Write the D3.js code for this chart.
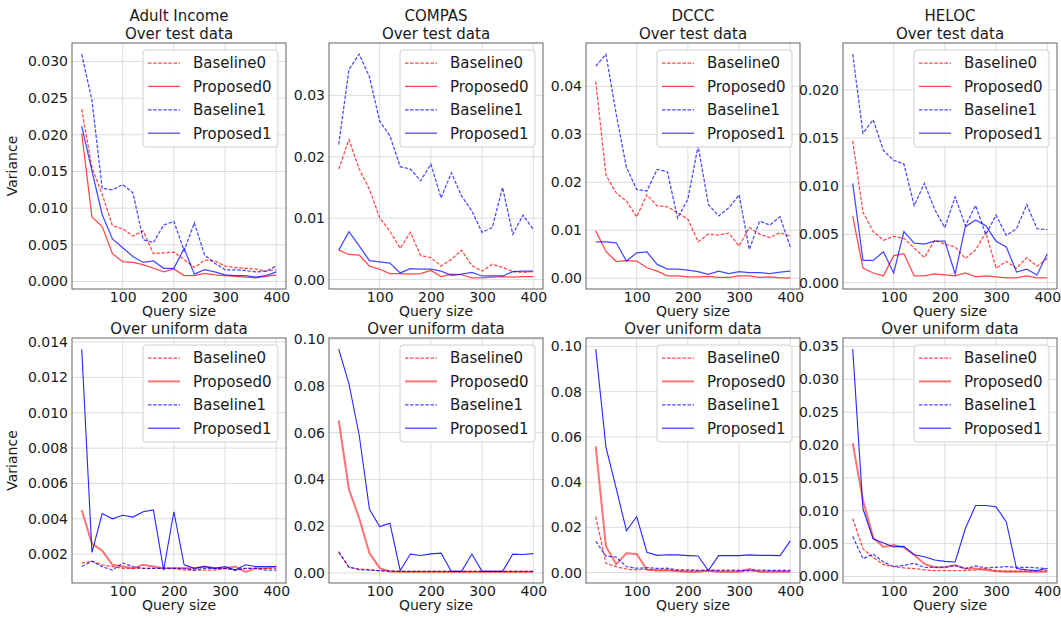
<!DOCTYPE html>
<html lang="en">
<head>
<meta charset="UTF-8">
<title>Variance vs query size</title>
<script src="https://d3js.org/d3.v7.min.js"></script>
<style>
  body { margin: 0; background: #fff; }
  svg { font-family: "DejaVu Sans", sans-serif; display: block; }
</style>
</head>
<body>
<div id="chart"></div>
<script>
// x values shared by every panel
const querySizes = [20, 40, 60, 80, 100, 120, 140, 160, 180, 200, 220, 240, 260, 280, 300, 320, 340, 360, 380, 400];
const seriesNames = ['Baseline0', 'Proposed0', 'Baseline1', 'Proposed1'];
const datasets = ['Adult Income', 'COMPAS', 'DCCC', 'HELOC'];
const rowTitles = ['Over test data', 'Over uniform data'];

// each panel: [Baseline0, Proposed0, Baseline1, Proposed1]
const adultTest = [
  [0.0235, 0.0155, 0.0119, 0.0076, 0.0072, 0.0062, 0.0069, 0.0038, 0.0039, 0.0040, 0.0030, 0.0019, 0.0029, 0.0028, 0.0021, 0.0019, 0.0018, 0.0017, 0.0014, 0.0016],
  [0.0202, 0.0088, 0.0075, 0.0038, 0.0027, 0.0026, 0.0023, 0.0018, 0.0013, 0.0017, 0.0008, 0.0008, 0.0011, 0.0009, 0.0008, 0.0007, 0.0006, 0.0005, 0.0007, 0.0009],
  [0.0310, 0.0247, 0.0127, 0.0125, 0.0132, 0.0121, 0.0057, 0.0053, 0.0077, 0.0082, 0.0042, 0.0080, 0.0036, 0.0025, 0.0016, 0.0016, 0.0015, 0.0013, 0.0014, 0.0021],
  [0.0212, 0.0151, 0.0091, 0.0058, 0.0046, 0.0034, 0.0026, 0.0028, 0.0018, 0.0018, 0.0045, 0.0010, 0.0016, 0.0013, 0.0009, 0.0008, 0.0008, 0.0006, 0.0008, 0.0013]
];
const compasTest = [
  [0.0180, 0.0228, 0.0180, 0.0147, 0.0101, 0.0079, 0.0051, 0.0077, 0.0039, 0.0036, 0.0022, 0.0033, 0.0048, 0.0023, 0.0014, 0.0025, 0.0020, 0.0013, 0.0012, 0.0013],
  [0.0048, 0.0041, 0.0040, 0.0022, 0.0017, 0.0010, 0.0010, 0.0009, 0.0010, 0.0015, 0.0005, 0.0009, 0.0008, 0.0003, 0.0003, 0.0004, 0.0005, 0.0004, 0.0005, 0.0005],
  [0.0220, 0.0342, 0.0367, 0.0330, 0.0258, 0.0234, 0.0184, 0.0180, 0.0161, 0.0188, 0.0133, 0.0174, 0.0136, 0.0112, 0.0077, 0.0085, 0.0150, 0.0074, 0.0105, 0.0082],
  [0.0048, 0.0078, 0.0055, 0.0031, 0.0029, 0.0027, 0.0011, 0.0018, 0.0017, 0.0017, 0.0014, 0.0007, 0.0009, 0.0012, 0.0006, 0.0006, 0.0006, 0.0013, 0.0014, 0.0014]
];
const dcccTest = [
  [0.0410, 0.0215, 0.0178, 0.0161, 0.0128, 0.0174, 0.0151, 0.0149, 0.0137, 0.0123, 0.0076, 0.0092, 0.0090, 0.0094, 0.0067, 0.0106, 0.0092, 0.0085, 0.0095, 0.0088],
  [0.0099, 0.0056, 0.0035, 0.0037, 0.0036, 0.0022, 0.0015, 0.0005, 0.0005, 0.0003, 0.0003, 0.0004, 0.0002, 0.0002, 0.0005, 0.0005, 0.0002, 0.0003, 0.0001, 0.0001],
  [0.0442, 0.0467, 0.0342, 0.0231, 0.0185, 0.0182, 0.0227, 0.0222, 0.0125, 0.0165, 0.0276, 0.0154, 0.0130, 0.0147, 0.0174, 0.0060, 0.0119, 0.0111, 0.0128, 0.0065],
  [0.0076, 0.0076, 0.0074, 0.0036, 0.0053, 0.0055, 0.0029, 0.0019, 0.0019, 0.0017, 0.0014, 0.0008, 0.0015, 0.0010, 0.0014, 0.0012, 0.0012, 0.0010, 0.0013, 0.0015]
];
const helocTest = [
  [0.0147, 0.0073, 0.0053, 0.0044, 0.0048, 0.0046, 0.0036, 0.0026, 0.0044, 0.0040, 0.0037, 0.0025, 0.0034, 0.0052, 0.0015, 0.0022, 0.0015, 0.0026, 0.0017, 0.0025],
  [0.0069, 0.0015, 0.0010, 0.0007, 0.0028, 0.0030, 0.0007, 0.0007, 0.0009, 0.0008, 0.0007, 0.0010, 0.0006, 0.0007, 0.0006, 0.0005, 0.0005, 0.0007, 0.0005, 0.0005],
  [0.0237, 0.0155, 0.0169, 0.0137, 0.0127, 0.0123, 0.0080, 0.0103, 0.0076, 0.0057, 0.0089, 0.0059, 0.0080, 0.0050, 0.0070, 0.0049, 0.0056, 0.0081, 0.0056, 0.0055],
  [0.0103, 0.0023, 0.0023, 0.0032, 0.0010, 0.0053, 0.0041, 0.0040, 0.0043, 0.0043, 0.0009, 0.0058, 0.0065, 0.0059, 0.0043, 0.0037, 0.0011, 0.0014, 0.0008, 0.0030]
];
const adultUniform = [
  [0.0015, 0.0016, 0.0014, 0.0013, 0.0012, 0.0012, 0.0012, 0.0012, 0.0012, 0.0012, 0.0011, 0.0011, 0.0011, 0.0011, 0.0012, 0.0011, 0.0012, 0.0012, 0.0012, 0.0012],
  [0.0045, 0.0026, 0.0022, 0.0014, 0.0013, 0.0012, 0.0014, 0.0013, 0.0012, 0.0012, 0.0012, 0.0012, 0.0013, 0.0012, 0.0012, 0.0013, 0.0010, 0.0012, 0.0012, 0.0013],
  [0.0013, 0.0016, 0.0013, 0.0011, 0.0015, 0.0013, 0.0012, 0.0012, 0.0012, 0.0012, 0.0012, 0.0011, 0.0012, 0.0012, 0.0012, 0.0011, 0.0012, 0.0012, 0.0011, 0.0011],
  [0.0136, 0.0021, 0.0043, 0.0040, 0.0042, 0.0041, 0.0044, 0.0045, 0.0011, 0.0044, 0.0014, 0.0012, 0.0013, 0.0012, 0.0013, 0.0011, 0.0014, 0.0013, 0.0013, 0.0013]
];
const compasUniform = [
  [0.0092, 0.0024, 0.0017, 0.0014, 0.0010, 0.0008, 0.0007, 0.0006, 0.0006, 0.0006, 0.0006, 0.0006, 0.0006, 0.0006, 0.0006, 0.0006, 0.0006, 0.0006, 0.0006, 0.0006],
  [0.0652, 0.0357, 0.0234, 0.0085, 0.0021, 0.0007, 0.0005, 0.0005, 0.0005, 0.0005, 0.0005, 0.0005, 0.0005, 0.0005, 0.0005, 0.0005, 0.0005, 0.0005, 0.0005, 0.0005],
  [0.0088, 0.0025, 0.0015, 0.0012, 0.0010, 0.0008, 0.0007, 0.0007, 0.0007, 0.0007, 0.0007, 0.0007, 0.0007, 0.0007, 0.0007, 0.0007, 0.0007, 0.0007, 0.0007, 0.0007],
  [0.0957, 0.0809, 0.0589, 0.0272, 0.0199, 0.0213, 0.0011, 0.0081, 0.0075, 0.0082, 0.0085, 0.0007, 0.0007, 0.0081, 0.0007, 0.0007, 0.0007, 0.0081, 0.0079, 0.0083]
];
const dcccUniform = [
  [0.0247, 0.0041, 0.0026, 0.0015, 0.0012, 0.0015, 0.0012, 0.0012, 0.0009, 0.0007, 0.0007, 0.0007, 0.0006, 0.0007, 0.0006, 0.0007, 0.0006, 0.0006, 0.0006, 0.0006],
  [0.0558, 0.0115, 0.0037, 0.0085, 0.0082, 0.0012, 0.0009, 0.0010, 0.0006, 0.0004, 0.0004, 0.0009, 0.0004, 0.0004, 0.0004, 0.0015, 0.0004, 0.0003, 0.0003, 0.0003],
  [0.0138, 0.0073, 0.0068, 0.0026, 0.0019, 0.0022, 0.0018, 0.0019, 0.0012, 0.0012, 0.0010, 0.0011, 0.0010, 0.0011, 0.0010, 0.0010, 0.0011, 0.0010, 0.0010, 0.0010],
  [0.0988, 0.0555, 0.0372, 0.0185, 0.0247, 0.0090, 0.0076, 0.0079, 0.0078, 0.0075, 0.0073, 0.0009, 0.0075, 0.0075, 0.0075, 0.0078, 0.0076, 0.0076, 0.0075, 0.0140]
];
const helocUniform = [
  [0.0088, 0.0042, 0.0029, 0.0018, 0.0015, 0.0013, 0.0012, 0.0010, 0.0009, 0.0009, 0.0009, 0.0009, 0.0010, 0.0012, 0.0009, 0.0008, 0.0008, 0.0008, 0.0008, 0.0009],
  [0.0203, 0.0116, 0.0059, 0.0045, 0.0048, 0.0044, 0.0033, 0.0019, 0.0014, 0.0014, 0.0017, 0.0012, 0.0012, 0.0010, 0.0008, 0.0007, 0.0007, 0.0007, 0.0007, 0.0007],
  [0.0061, 0.0027, 0.0034, 0.0022, 0.0015, 0.0017, 0.0020, 0.0014, 0.0014, 0.0014, 0.0017, 0.0012, 0.0016, 0.0013, 0.0014, 0.0015, 0.0014, 0.0014, 0.0013, 0.0012],
  [0.0346, 0.0103, 0.0057, 0.0051, 0.0045, 0.0046, 0.0033, 0.0030, 0.0025, 0.0023, 0.0022, 0.0073, 0.0108, 0.0108, 0.0106, 0.0083, 0.0012, 0.0010, 0.0009, 0.0012]
];

// tick labels per panel
const xTicks = [100, 200, 300, 400];
const yTicksTest = [
  [0, 0.005, 0.010, 0.015, 0.020, 0.025, 0.030],
  [0, 0.01, 0.02, 0.03],
  [0, 0.01, 0.02, 0.03, 0.04],
  [0, 0.005, 0.010, 0.015, 0.020]
];
const yTicksUniform = [
  [0.002, 0.004, 0.006, 0.008, 0.010, 0.012, 0.014],
  [0, 0.02, 0.04, 0.06, 0.08, 0.10],
  [0, 0.02, 0.04, 0.06, 0.08, 0.10],
  [0, 0.005, 0.010, 0.015, 0.020, 0.025, 0.030, 0.035]
];

const panels = [
  [adultTest, compasTest, dcccTest, helocTest],
  [adultUniform, compasUniform, dcccUniform, helocUniform]
];
const yTicks = [yTicksTest, yTicksUniform];

const width = 1061, height = 618;
const panelW = 214;
const rowTop = [43, 338], rowH = [246, 245];
const colLeft = c => 72 + c * 257;

const color = ['#ff0000', '#ff0000', '#0000ff', '#0000ff'];
const dashes = ['3.5,1.6', null, '3.5,1.6', null];

function lineStyle(row, i) {
  if (row === 1 && i === 1) return { w: 2, op: 0.55 };
  if (row === 1 && i === 3) return { w: 1.1, op: 0.85 };
  return { w: 1.25, op: 0.72 };
}

const svg = d3.select('#chart').append('svg')
  .attr('width', width)
  .attr('height', height);

panels.forEach((rowData, r) => {
  rowData.forEach((series, c) => {
    const h = rowH[r];
    const g = svg.append('g')
      .attr('transform', `translate(${colLeft(c)},${rowTop[r]})`);

    // matplotlib style 5% margins
    const x = d3.scaleLinear().domain([1, 419]).range([0, panelW]);
    const all = series.flat();
    const lo = d3.min(all), hi = d3.max(all), pad = (hi - lo) * 0.05;
    const y = d3.scaleLinear().domain([lo - pad, hi + pad]).range([h, 0]);

    const ticks = yTicks[r][c];
    const step = ticks[1] - ticks[0];
    const dec = Math.ceil(-Math.log10(step) - 1e-9);
    const fmt = d3.format(`.${dec}f`);

    // grid
    g.append('g').selectAll('line.gy').data(ticks).enter().append('line')
      .attr('x1', 0).attr('x2', panelW)
      .attr('y1', d => y(d)).attr('y2', d => y(d))
      .attr('stroke', '#dcdcdc').attr('stroke-width', 1);
    g.append('g').selectAll('line.gx').data(xTicks).enter().append('line')
      .attr('x1', d => x(d)).attr('x2', d => x(d))
      .attr('y1', 0).attr('y2', h)
      .attr('stroke', '#dcdcdc').attr('stroke-width', 1);

    // axes (labels only, no tick marks)
    const yAxis = g.append('g')
      .call(d3.axisLeft(y).tickValues(ticks).tickFormat(fmt).tickSize(0).tickPadding(4));
    const xAxis = g.append('g').attr('transform', `translate(0,${h})`)
      .call(d3.axisBottom(x).tickValues(xTicks).tickSize(0).tickPadding(3));
    [yAxis, xAxis].forEach(a => {
      a.select('.domain').remove();
      a.selectAll('line').remove();
      a.selectAll('text').attr('font-size', 14).attr('fill', '#1a1a1a')
        .attr('font-family', '"DejaVu Sans", sans-serif');
    });

    // series
    const line = d3.line().x((d, i) => x(querySizes[i])).y(d => y(d));
    series.forEach((vals, i) => {
      const st = lineStyle(r, i);
      g.append('path')
        .datum(vals)
        .attr('d', line)
        .attr('fill', 'none')
        .attr('stroke', color[i])
        .attr('stroke-opacity', st.op)
        .attr('stroke-width', st.w)
        .attr('stroke-dasharray', dashes[i]);
    });

    // frame
    g.append('rect')
      .attr('width', panelW).attr('height', h)
      .attr('fill', 'none').attr('stroke', '#555').attr('stroke-width', 0.9);

    // legend
    const lw = 135, lh = 97;
    const leg = g.append('g').attr('transform', `translate(${panelW - 8 - lw},7)`);
    leg.append('rect')
      .attr('width', lw).attr('height', lh).attr('rx', 3)
      .attr('fill', '#fff').attr('fill-opacity', 0.85)
      .attr('stroke', '#d0d0d0').attr('stroke-width', 1);
    seriesNames.forEach((name, i) => {
      const st = lineStyle(r, i);
      const yy = 13 + i * 23.4;
      leg.append('line')
        .attr('x1', 5).attr('x2', 37).attr('y1', yy).attr('y2', yy)
        .attr('stroke', color[i]).attr('stroke-opacity', st.op)
        .attr('stroke-width', st.w).attr('stroke-dasharray', dashes[i]);
      leg.append('text')
        .attr('x', 50).attr('y', yy).attr('dy', '0.36em')
        .attr('font-size', 15).attr('fill', '#1a1a1a')
        .text(name);
    });

    // titles
    const cx = panelW / 2;
    if (r === 0) {
      g.append('text').attr('x', cx).attr('y', -22).attr('text-anchor', 'middle')
        .attr('font-size', 15).attr('fill', '#1a1a1a').text(datasets[c]);
      g.append('text').attr('x', cx).attr('y', -4).attr('text-anchor', 'middle')
        .attr('font-size', 15).attr('fill', '#1a1a1a').text(rowTitles[0]);
    } else {
      g.append('text').attr('x', cx).attr('y', -4).attr('text-anchor', 'middle')
        .attr('font-size', 15).attr('fill', '#1a1a1a').text(rowTitles[1]);
    }
    g.append('text').attr('x', cx).attr('y', h + 27).attr('text-anchor', 'middle')
      .attr('font-size', 14).attr('fill', '#1a1a1a').text('Query size');

    if (c === 0) {
      g.append('text')
        .attr('transform', `translate(${-55},${h / 2}) rotate(-90)`)
        .attr('text-anchor', 'middle')
        .attr('font-size', 14).attr('fill', '#1a1a1a').text('Variance');
    }
  });
});
</script>
</body>
</html>
